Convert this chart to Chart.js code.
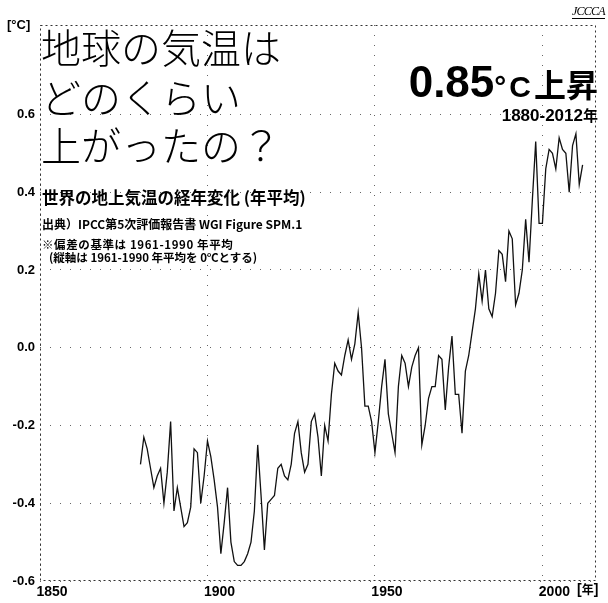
<!DOCTYPE html>
<html lang="ja">
<head>
<meta charset="utf-8">
<script src="https://cdn.jsdelivr.net/npm/chart.js@4.4.1/dist/chart.umd.min.js"></script>
<style>
  html, body { margin: 0; padding: 0; background: #fff; }
  #wrap { position: relative; width: 608px; height: 603px; overflow: hidden; }
  #chart { position: absolute; left: 0; top: 0; }
  .t { position: absolute; white-space: nowrap; color: #000; font-family: "Noto Sans CJK JP", "Noto Sans", sans-serif; }
  .big { font-size: 40px; font-weight: 300; line-height: 47px; left: 41px; }
  .narrow { font-family: "Liberation Sans Narrow", "Liberation Sans", sans-serif; font-weight: bold; }
</style>
</head>
<body>
<div id="wrap">
  <canvas id="chart" width="608" height="603"></canvas>

  <div class="t narrow" style="left:7px; top:17px; font-size:13px;">[°C]</div>
  <div class="t big" style="top:23px;">地球の気温は</div>
  <div class="t big" style="top:73px;">どのくらい</div>
  <div class="t big" style="top:121px;">上がったの？</div>

  <div class="t" style="left:42px; top:185px; font-size:16.5px; font-weight:bold;">世界の地上気温の経年変化 (年平均)</div>
  <div class="t" style="left:42px; top:215px; font-size:12px; font-weight:bold;">出典）IPCC第5次評価報告書 WGI Figure SPM.1</div>
  <div class="t" style="left:42px; top:236px; font-size:11.5px; font-weight:bold; letter-spacing:0.6px;">※偏差の基準は 1961-1990 年平均</div>
  <div class="t" style="left:49px; top:249px; font-size:11.5px; font-weight:bold;">(縦軸は 1961-1990 年平均を 0℃とする)</div>

  <div class="t" style="right:10px; top:58px; font-weight:bold; line-height:48px;"><span style="font-family:'Liberation Sans',sans-serif; font-size:44px;">0.85</span><span style="font-family:'Liberation Sans',sans-serif; font-size:30px; letter-spacing:3px;">°C</span><span style="font-size:32px;">上昇</span></div>
  <div class="t narrow" style="right:10px; top:104px; font-size:17px;">1880-2012<span style="font-family:'Noto Sans CJK JP',sans-serif; font-size:15px;">年</span></div>

  <div class="t narrow" style="left:577px; top:580px; font-size:14px;">[<span style="font-family:'Noto Sans CJK JP',sans-serif; font-size:12px;">年</span>]</div>
  <div class="t" style="left:572px; top:4px; font-family:'Liberation Serif',serif; font-style:italic; font-size:12px; letter-spacing:-0.8px; border-bottom:1px solid #000; line-height:14px;">JCCCA</div>
</div>

<script>
// annual mean anomaly (deg C, vs 1961-1990)
const years = [];
for (let y = 1880; y <= 2012; y++) years.push(y);

const temps = [
  -0.30, -0.23, -0.26, -0.31, -0.36, -0.33, -0.31, -0.40, -0.32, -0.19, // 1880s
  -0.42, -0.36, -0.41, -0.46, -0.45, -0.41, -0.26, -0.27, -0.40, -0.33, // 1890s
  -0.24, -0.28, -0.34, -0.41, -0.53, -0.45, -0.36, -0.50, -0.55, -0.56, // 1900s
  -0.56, -0.55, -0.53, -0.50, -0.42, -0.25, -0.38, -0.52, -0.40, -0.39, // 1910s
  -0.38, -0.31, -0.30, -0.33, -0.34, -0.30, -0.22, -0.19, -0.27, -0.32, // 1920s
  -0.30, -0.19, -0.17, -0.23, -0.33, -0.20, -0.24, -0.12, -0.04, -0.06, // 1930s
  -0.07, -0.02,  0.02, -0.03,  0.01,  0.09,  0.00, -0.15, -0.15, -0.19, // 1940s
  -0.27, -0.19, -0.10, -0.03, -0.17, -0.22, -0.27, -0.10, -0.02, -0.04, // 1950s
  -0.10, -0.05, -0.02,  0.00, -0.25, -0.20, -0.13, -0.10, -0.10, -0.02, // 1960s
  -0.03, -0.16, -0.05,  0.03, -0.12, -0.12, -0.22, -0.06, -0.02,  0.04, // 1970s
   0.10,  0.19,  0.12,  0.20,  0.10,  0.08,  0.14,  0.25,  0.24,  0.17, // 1980s
   0.30,  0.28,  0.11,  0.14,  0.20,  0.33,  0.22,  0.38,  0.53,  0.32, // 1990s
   0.32,  0.46,  0.51,  0.50,  0.46,  0.54,  0.51,  0.50,  0.40,  0.52, // 2000s
   0.55,  0.42,  0.47                                                   // 2010-2012
];

const xTicks = [1850, 1900, 1950, 2000];
const yTicks = [-0.6, -0.4, -0.2, 0.0, 0.2, 0.4, 0.6];

const tickFont = { family: "'Liberation Sans Narrow', 'Liberation Sans', sans-serif", size: 14, weight: "bold" };

// dotted frame round the plot area
const framePlugin = {
    id: "frame",
    beforeDatasetsDraw(chart) {
        const a = chart.chartArea;
        const ctx = chart.ctx;
        ctx.save();
        ctx.strokeStyle = "#333";
        ctx.lineWidth = 1;
        ctx.setLineDash([2, 3]);
        ctx.strokeRect(a.left + 0.5, a.top + 0.5, a.right - a.left - 1, a.bottom - a.top - 1);
        ctx.restore();
    }
};

new Chart(document.getElementById("chart"), {
    type: "line",
    data: {
        datasets: [{
            data: years.map((y, i) => ({ x: y, y: temps[i] })),
            borderColor: "#111",
            borderWidth: 1.3,
            pointRadius: 0,
            tension: 0,
            fill: false
        }]
    },
    options: {
        responsive: false,
        animation: false,
        devicePixelRatio: 1,
        layout: { padding: { top: 25, right: 12, left: 0, bottom: 0 } },
        plugins: { legend: { display: false }, tooltip: { enabled: false } },
        scales: {
            x: {
                type: "linear",
                min: 1850,
                max: 2016,
                afterBuildTicks: s => { s.ticks = xTicks.map(v => ({ value: v })); },
                afterFit: s => { s.height = 22; },
                grid: { color: "#666", lineWidth: 1, drawTicks: false },
                border: { display: false, dash: [1, 9] },
                ticks: {
                    color: "#000",
                    font: tickFont,
                    padding: 3,
                    labelOffset: 12,
                    maxRotation: 0,
                    callback: v => String(v)
                }
            },
            y: {
                type: "linear",
                min: -0.6,
                max: 0.83,
                afterBuildTicks: s => { s.ticks = yTicks.map(v => ({ value: v })); },
                afterFit: s => { s.width = 40; },
                grid: { color: "#666", lineWidth: 1, drawTicks: false },
                border: { display: false, dash: [1, 9] },
                ticks: {
                    color: "#000",
                    font: { ...tickFont, size: 13 },
                    padding: 5,
                    callback: v => v.toFixed(1)
                }
            }
        }
    },
    plugins: [framePlugin]
});
</script>
</body>
</html>
